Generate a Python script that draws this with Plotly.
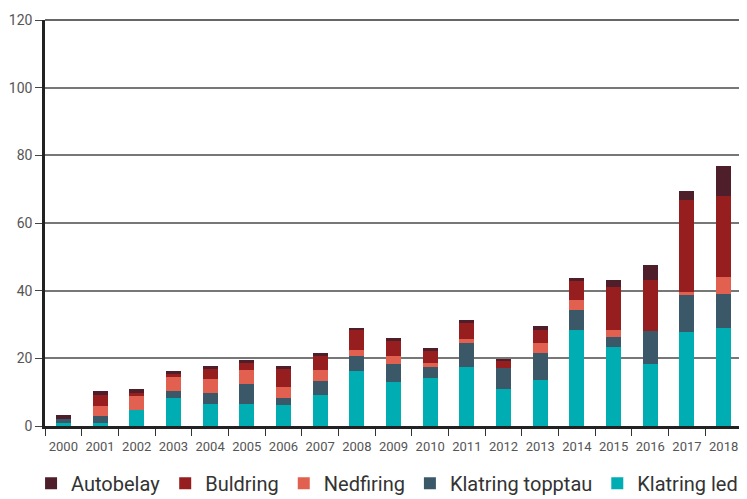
import plotly.graph_objects as go

years = [str(y) for y in range(2000, 2019)]

klatring_led = [1.0, 1.0, 4.8, 8.3, 6.5, 6.5, 6.2, 9.2, 16.4, 13.1, 14.3, 17.5, 11.0, 13.7, 28.5, 23.3, 18.4, 27.8, 29.0]
klatring_topptau = [1.0, 2.0, 0.0, 2.1, 3.3, 6.0, 2.1, 4.2, 4.2, 5.1, 3.0, 7.0, 6.0, 8.0, 5.8, 3.1, 9.8, 10.9, 10.0]
nedfiring = [0.0, 3.0, 4.1, 4.2, 4.0, 4.2, 3.3, 3.3, 2.0, 2.4, 1.2, 1.1, 0.0, 2.9, 2.8, 2.1, 0.0, 0.9, 4.9]
buldring = [0.0, 3.3, 0.8, 0.9, 3.0, 1.8, 5.2, 4.0, 5.7, 4.6, 3.8, 4.9, 2.1, 3.7, 5.8, 12.7, 15.0, 27.1, 24.0]
autobelay = [1.2, 0.9, 1.3, 0.9, 0.9, 0.9, 0.9, 0.8, 0.8, 0.8, 0.9, 0.9, 0.6, 1.2, 0.9, 2.0, 4.4, 2.9, 8.9]

series = [
    ("Klatring led", klatring_led, "#00ADB3"),
    ("Klatring topptau", klatring_topptau, "#3B5868"),
    ("Nedfiring", nedfiring, "#E2604F"),
    ("Buldring", buldring, "#961E1E"),
    ("Autobelay", autobelay, "#4E1F2B"),
]

y_ticks = [0, 20, 40, 60, 80, 100, 120]

fig = go.Figure()
for name, vals, color in series:
    fig.add_trace(go.Bar(
        x=years, y=vals, name=name,
        marker=dict(color=color, line=dict(width=0)),
        width=0.41,
    ))

font_family = "Roboto, 'Open Sans', sans-serif"

# page body has an 8px margin, so the figure is sized to fit the 747x499 window
fig.update_layout(
    barmode="stack",
    width=739, height=491,
    margin=dict(l=37, r=5, t=12, b=73, autoexpand=False),
    paper_bgcolor="white",
    plot_bgcolor="white",
    font=dict(family=font_family, color="#444444"),
    showlegend=True,
    legend=dict(
        orientation="h",
        traceorder="reversed",
        x=-0.02, xanchor="left",
        y=-0.093, yanchor="top",
        font=dict(size=20, color="#333333"),
        itemwidth=30,
        tracegroupgap=0,
    ),
    xaxis=dict(
        type="category",
        tickson="boundaries",
        ticks="outside",
        ticklen=7,
        tickcolor="#333333",
        tickwidth=1.2,
        tickangle=0,
        ticklabelstandoff=7,
        tickfont=dict(size=13, color="#555555"),
        showline=True,
        linecolor="#222222",
        linewidth=2.5,
        mirror=False,
        showgrid=False,
        range=[-0.5, 18.5],
        automargin=False,
    ),
    yaxis=dict(
        range=[0, 120],
        tickvals=y_ticks,
        ticks="outside",
        ticklen=7,
        tickcolor="#444444",
        tickwidth=1.2,
        tickfont=dict(size=14, color="#555555"),
        showline=True,
        linecolor="#222222",
        linewidth=2.5,
        showgrid=True,
        gridcolor="#777777",
        gridwidth=1.5,
        zeroline=False,
        automargin=False,
    ),
)

# top and right border lines
fig.add_shape(type="line", xref="paper", yref="paper", x0=0, x1=1, y0=1, y1=1,
              line=dict(color="#333333", width=1.5))
fig.add_shape(type="line", xref="paper", yref="paper", x0=1, x1=1, y0=0, y1=1,
              line=dict(color="#222222", width=3))

fig.write_html("out.html")
